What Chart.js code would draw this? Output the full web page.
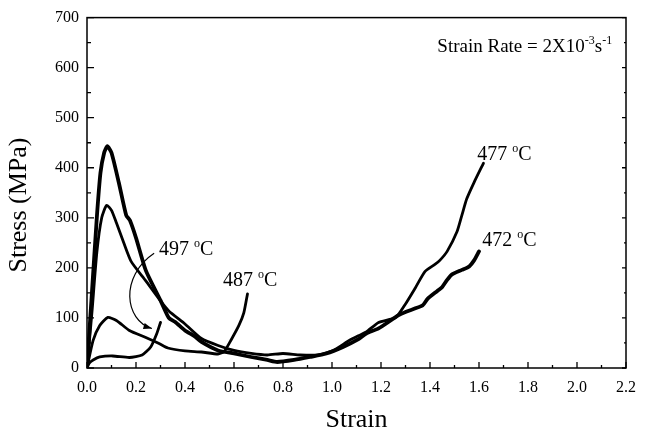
<!DOCTYPE html>
<html>
<head>
<meta charset="utf-8">
<script src="https://cdn.jsdelivr.net/npm/chart.js@4.4.0/dist/chart.umd.min.js"></script>
<style>
    html, body { margin: 0; padding: 0; background: #fff; }
    #wrap { width: 646px; height: 436px; }
</style>
</head>
<body>
<div id="wrap"><canvas id="chart" width="646" height="436"></canvas></div>
<script>
// values
const strain472 = [0, 0.02, 0.04, 0.055, 0.07, 0.083, 0.1, 0.13, 0.16, 0.175, 0.2, 0.24, 0.3, 0.334, 0.36, 0.4, 0.44, 0.467, 0.535, 0.6, 0.67, 0.736, 0.776, 0.845, 0.91, 0.977, 1.045, 1.11, 1.14, 1.19, 1.27, 1.3, 1.37, 1.39, 1.43, 1.45, 1.47, 1.49, 1.53, 1.56, 1.58, 1.6];
const stress472 = [0, 150, 300, 390, 430, 443, 430, 370, 305, 295, 260, 195, 135, 100, 92, 75, 63, 52, 35, 29, 22, 16, 12, 16, 22, 29, 42, 58, 69, 79, 105, 112, 125, 138, 154, 162, 176, 187, 196, 203, 215, 233];

const strain477 = [0, 0.02, 0.04, 0.06, 0.08, 0.1, 0.12, 0.15, 0.18, 0.24, 0.3, 0.334, 0.4, 0.467, 0.535, 0.6, 0.67, 0.736, 0.8, 0.87, 0.94, 1.005, 1.07, 1.11, 1.14, 1.19, 1.26, 1.3, 1.34, 1.38, 1.42, 1.44, 1.47, 1.51, 1.53, 1.55, 1.58, 1.618];
const stress477 = [0, 110, 230, 300, 325, 315, 290, 250, 213, 174, 134, 114, 88, 59, 45, 35, 29, 26, 29, 26, 26, 35, 55, 65, 72, 91, 101, 128, 160, 193, 207, 215, 233, 272, 305, 338, 371, 409];

const strain487 = [0, 0.025, 0.052, 0.085, 0.12, 0.173, 0.24, 0.294, 0.33, 0.4, 0.467, 0.535, 0.56, 0.587, 0.62, 0.64, 0.655];
const stress487 = [0, 55, 85, 101, 95, 75, 61, 49, 40, 34, 32, 28, 33, 55, 85, 110, 148];

const strain497 = [0, 0.01, 0.025, 0.052, 0.105, 0.173, 0.225, 0.26, 0.285, 0.3];
const stress497 = [0, 10, 16, 22, 24, 21, 26, 42, 69, 91];

const strainTicks = [0, 0.2, 0.4, 0.6, 0.8, 1.0, 1.2, 1.4, 1.6, 1.8, 2.0, 2.2];
const stressTicks = [0, 100, 200, 300, 400, 500, 600, 700];

const curveLabels = [
    { temp: '477', x: 1.593, y: 426 },
    { temp: '472', x: 1.613, y: 254 },
    { temp: '497', x: 0.294, y: 237 },
    { temp: '487', x: 0.555, y: 174 }
];

const SERIF = '"Liberation Serif", "Times New Roman", serif';

function toPoints(xs, ys) {
    return xs.map((x, i) => ({ x, y: ys[i] }));
}

function curve(xs, ys, width) {
    return {
        data: toPoints(xs, ys),
        borderColor: '#000',
        borderWidth: width,
        pointRadius: 0,
        tension: 0.2,
        borderCapStyle: 'round',
        borderJoinStyle: 'round'
    };
}

function drawTemp(ctx, px, py, temp) {
    ctx.font = `20px ${SERIF}`;
    ctx.textBaseline = 'middle';
    ctx.textAlign = 'left';
    const first = temp + ' ';
    ctx.fillText(first, px, py);
    let x = px + ctx.measureText(first).width;
    ctx.font = `12px ${SERIF}`;
    ctx.fillText('o', x, py - 6);
    x += ctx.measureText('o').width;
    ctx.font = `20px ${SERIF}`;
    ctx.fillText('C', x, py);
}

const decorations = {
    id: 'decorations',
    afterDraw(chart) {
        const { ctx, chartArea: a, scales: { x, y } } = chart;
        ctx.save();
        ctx.strokeStyle = '#000';
        ctx.fillStyle = '#000';

        // frame
        ctx.lineWidth = 1.5;
        ctx.strokeRect(a.left, a.top, a.right - a.left, a.bottom - a.top);

        // inward ticks
        ctx.lineWidth = 1.3;
        ctx.beginPath();
        for (let i = 0; i <= 22; i++) {
            const px = x.getPixelForValue(i / 10);
            const len = i % 2 === 0 ? 6 : 3;
            ctx.moveTo(px, a.bottom);
            ctx.lineTo(px, a.bottom - len);
        }
        for (let i = 0; i <= 14; i++) {
            const py = y.getPixelForValue(i * 50);
            const len = i % 2 === 0 ? 7 : 4;
            ctx.moveTo(a.left, py);
            ctx.lineTo(a.left + len, py);
            ctx.moveTo(a.right, py);
            ctx.lineTo(a.right - (i % 2 === 0 ? 4 : 2), py);
        }
        ctx.stroke();

        // arrow from the 497 label to its curve
        const sx = x.getPixelForValue(0.274), sy = y.getPixelForValue(229);
        const c1x = x.getPixelForValue(0.133), c1y = y.getPixelForValue(183);
        const c2x = x.getPixelForValue(0.153), c2y = y.getPixelForValue(95);
        const ex = x.getPixelForValue(0.265), ey = y.getPixelForValue(79);
        ctx.lineWidth = 1.2;
        ctx.beginPath();
        ctx.moveTo(sx, sy);
        ctx.bezierCurveTo(c1x, c1y, c2x, c2y, ex, ey);
        ctx.stroke();
        const ang = Math.atan2(ey - c2y, ex - c2x);
        ctx.beginPath();
        ctx.moveTo(ex, ey);
        ctx.lineTo(ex - 9 * Math.cos(ang - 0.35), ey - 9 * Math.sin(ang - 0.35));
        ctx.lineTo(ex - 9 * Math.cos(ang + 0.35), ey - 9 * Math.sin(ang + 0.35));
        ctx.closePath();
        ctx.fill();

        // curve labels
        curveLabels.forEach(l => drawTemp(ctx, x.getPixelForValue(l.x), y.getPixelForValue(l.y), l.temp));

        // strain rate note
        let px = x.getPixelForValue(1.43);
        const py = y.getPixelForValue(631);
        ctx.textBaseline = 'alphabetic';
        const parts = [['Strain Rate = 2X10', 19, 0], ['-3', 12, -8], ['s', 19, 0], ['-1', 12, -8]];
        parts.forEach(([t, size, dy]) => {
            ctx.font = `${size}px ${SERIF}`;
            ctx.fillText(t, px, py + dy);
            px += ctx.measureText(t).width;
        });

        // axis titles
        ctx.font = `26px ${SERIF}`;
        ctx.textAlign = 'center';
        ctx.textBaseline = 'middle';
        ctx.fillText('Strain', (a.left + a.right) / 2, 420);
        ctx.translate(19, 205);
        ctx.rotate(-Math.PI / 2);
        ctx.fillText('Stress (MPa)', 0, 0);
        ctx.restore();
    }
};

new Chart(document.getElementById('chart'), {
    type: 'line',
    data: {
        datasets: [
            curve(strain472, stress472, 3.8),
            curve(strain477, stress477, 2.8),
            curve(strain487, stress487, 2.8),
            curve(strain497, stress497, 2.8)
        ]
    },
    options: {
        responsive: false,
        animation: false,
        layout: { padding: { top: 13, right: 12, left: 0, bottom: 0 } },
        plugins: { legend: { display: false }, tooltip: { enabled: false } },
        scales: {
            x: {
                type: 'linear',
                min: 0,
                max: 2.2,
                afterBuildTicks: s => { s.ticks = strainTicks.map(v => ({ value: v })); },
                afterFit: s => { s.height = 68; },
                grid: { display: false, drawTicks: false },
                border: { display: false },
                ticks: {
                    padding: 10,
                    color: '#000',
                    font: { family: SERIF, size: 16 },
                    maxRotation: 0,
                    callback: v => v.toFixed(1)
                }
            },
            y: {
                min: 0,
                max: 700,
                afterBuildTicks: s => { s.ticks = stressTicks.map(v => ({ value: v })); },
                afterFit: s => { s.width = 87; },
                grid: { display: false, drawTicks: false },
                border: { display: false },
                ticks: {
                    padding: 8,
                    color: '#000',
                    font: { family: SERIF, size: 16 }
                }
            }
        }
    },
    plugins: [decorations]
});
</script>
</body>
</html>
